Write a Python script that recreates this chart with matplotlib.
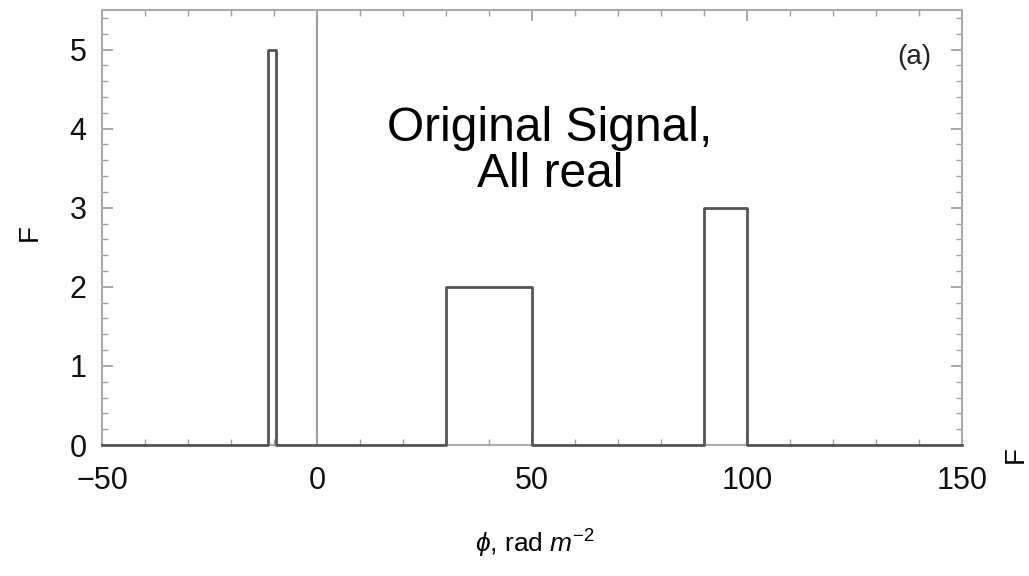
import matplotlib
matplotlib.use("Agg")
import matplotlib.pyplot as plt
from matplotlib.ticker import MultipleLocator

# rectangular components of the Faraday spectrum
box_left = [-11.5, 30, 90]
box_right = [-9.5, 50, 100]
box_height = [5, 2, 3]
phi_min, phi_max = -50, 150

x_ticks = [-50, 0, 50, 100, 150]
x_labels = ["\u221250", "0", "50", "100", "150"]
y_ticks = [0, 1, 2, 3, 4, 5]


def main():
    plt.rcParams['font.family'] = ['Liberation Sans', 'DejaVu Sans']
    plt.rcParams['mathtext.fontset'] = 'custom'
    plt.rcParams['mathtext.it'] = 'Liberation Sans:italic'
    plt.rcParams['mathtext.rm'] = 'Liberation Sans'

    fig = plt.figure(figsize=(10.29, 5.76), dpi=100)
    ax = fig.add_axes([0.0991, 0.2274, 0.8358, 0.7552])

    # build step outline
    phi = [phi_min]
    F = [0]
    for l, r, h in zip(box_left, box_right, box_height):
        phi += [l, l, r, r]
        F += [0, h, h, 0]
    phi.append(phi_max)
    F.append(0)

    ax.axvline(0, color='#9a9a9a', lw=1.5, zorder=1)
    ax.plot(phi, F, color='#555555', lw=2.0, zorder=3, clip_on=False)

    ax.set_xlim(phi_min, phi_max)
    ax.set_ylim(0, 5.5)

    ax.set_xticks(x_ticks)
    ax.set_xticklabels(x_labels)
    ax.set_yticks(y_ticks)
    ax.xaxis.set_minor_locator(MultipleLocator(10))
    ax.yaxis.set_minor_locator(MultipleLocator(0.2))
    ax.tick_params(which='both', direction='in', top=True, right=True,
                   color='#a0a0a0', labelsize=22, labelcolor='#111111')
    ax.tick_params(which='major', length=8, width=1.3)
    ax.tick_params(which='minor', length=4, width=1.0)
    ax.tick_params(axis='x', pad=15)
    ax.tick_params(axis='y', pad=11)

    for s in ax.spines.values():
        s.set_color('#aaaaaa')
        s.set_linewidth(1.5)

    ax.text(0.521, 0.675, "Original Signal,\nAll real", transform=ax.transAxes,
            ha='center', va='center', fontsize=34.5, linespacing=1.05, color='black')
    ax.text(139, 4.9, "(a)", ha='center', va='center', fontsize=20, color='#222222')

    fig.text(0.029, 0.597, "F", rotation=90, ha='center', va='center', fontsize=20)
    fig.text(0.987, 0.21, "F", rotation=90, ha='center', va='center', fontsize=20)
    fig.text(0.52, 0.055, r"$\phi$, rad $m^{-2}$", ha='center', va='center', fontsize=19)

    fig.savefig("out.png", dpi=100)
    plt.close(fig)


if __name__ == "__main__":
    main()
